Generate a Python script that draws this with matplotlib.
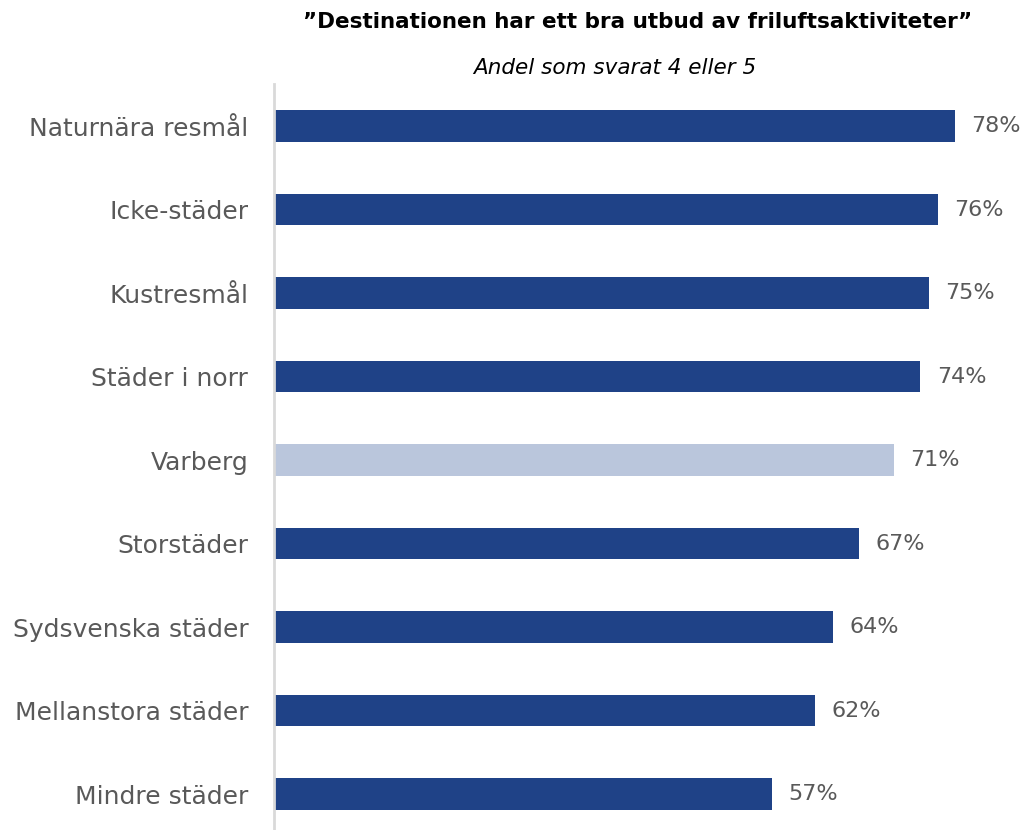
import matplotlib.pyplot as plt

# Data
categories = ["Naturnära resmål", "Icke-städer", "Kustresmål", "Städer i norr",
              "Varberg", "Storstäder", "Sydsvenska städer", "Mellanstora städer",
              "Mindre städer"]
values = [78, 76, 75, 74, 71, 67, 64, 62, 57]
highlight = "Varberg"

dark_blue = "#1F4287"
light_blue = "#BAC6DC"
text_grey = "#595959"

plt.rcParams['font.family'] = ['DejaVu Sans']

fig = plt.figure(figsize=(10.24, 8.30), dpi=100)
ax = fig.add_axes([274 / 1024, 0, 1 - 274 / 1024, (830 - 84) / 830])

colors = [light_blue if c == highlight else dark_blue for c in categories]
y = list(range(len(categories)))
ax.barh(y, values, height=0.38, color=colors)

for yi, v in zip(y, values):
    ax.text(v + 1.9, yi, f"{v}%", va='center', ha='left', fontsize=16, color=text_grey)

ax.set_yticks(y)
ax.set_yticklabels(categories, fontsize=18, color=text_grey)
ax.tick_params(axis='y', length=0, pad=18.5)
ax.set_xticks([])
ax.set_xlim(0, 85.9)
ax.set_ylim(8.431, -0.503)

for side in ['top', 'right', 'bottom']:
    ax.spines[side].set_visible(False)
ax.spines['left'].set_color('#D9D9D9')
ax.spines['left'].set_linewidth(2)

fig.text(0.623, 0.974, "\u201dDestinationen har ett bra utbud av friluftsaktiviteter\u201d",
         ha='center', va='center', fontsize=15.5, fontweight='bold', color='black')
fig.text(0.600, 0.918, "Andel som svarat 4 eller 5", ha='center', va='center',
         fontsize=15.5, style='italic', color='black')

fig.savefig("out.png", dpi=100)
